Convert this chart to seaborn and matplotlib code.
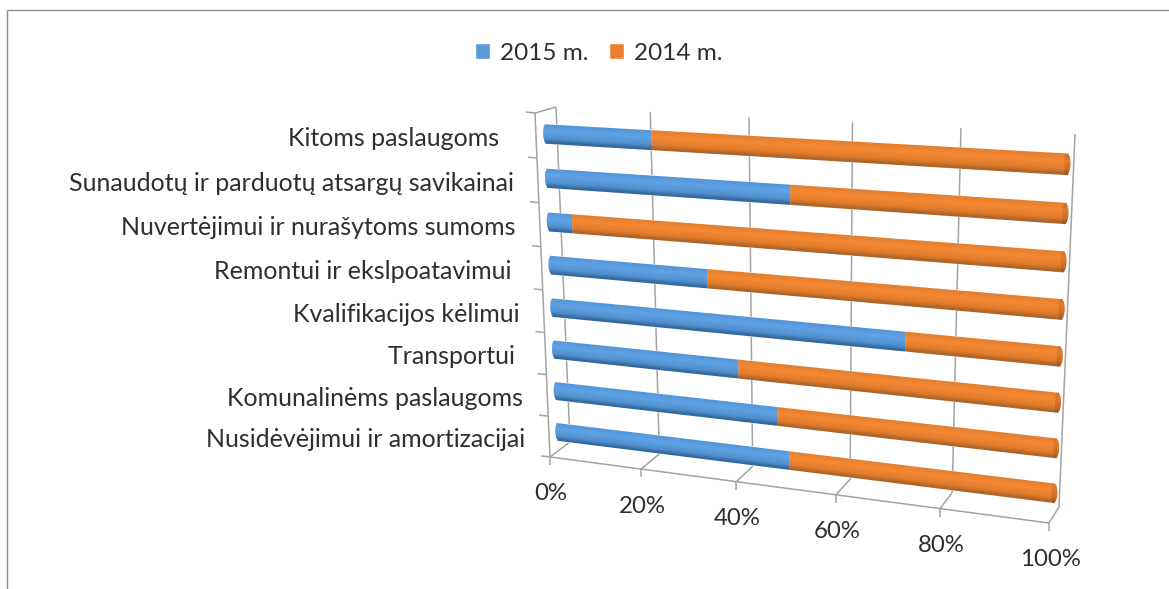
import numpy as np
import pandas as pd
import seaborn as sns
import matplotlib.pyplot as plt
from matplotlib.colors import to_rgb
from matplotlib.transforms import Transform, IdentityTransform

categories = ["Kitoms paslaugoms  ", "Sunaudotų ir parduotų atsargų savikainai",
              "Nuvertėjimui ir nurašytoms sumoms", "Remontui ir ekslpoatavimui ",
              "Kvalifikacijos kėlimui", "Transportui ",
              "Komunalinėms paslaugoms", "Nusidėvėjimui ir amortizacijai"]
share_2015 = [22.1, 49.6, 4.9, 32.9, 71.8, 39.0, 46.9, 49.2]
share_2014 = [77.9, 50.4, 95.1, 67.1, 28.2, 61.0, 53.1, 50.8]
x_ticks = [0, 20, 40, 60, 80, 100]
x_labels = ["0%", "20%", "40%", "60%", "80%", "100%"]

W, H = 1169, 589
TXT = "#2f2f2f"
GRID = "#a3a3a3"
BLUE = "#5b9bd5"
ORANGE = "#ed7d31"

sns.set_theme(style="white")
plt.rcParams["font.family"] = ["Lato", "DejaVu Sans"]


# planes of the fake 3d box, corners in picture pixels: TL, TR, BR, BL
def fit_plane(corners):
    src = [(0, 0), (1, 0), (1, 1), (0, 1)]
    a, b = [], []
    for (u, v), (px, py) in zip(src, corners):
        py = H - py
        a.append([u, v, 1, 0, 0, 0, -u * px, -v * px])
        a.append([0, 0, 0, u, v, 1, -u * py, -v * py])
        b += [px, py]
    return np.append(np.linalg.solve(np.array(a, float), np.array(b, float)), 1).reshape(3, 3)


class Persp(Transform):
    input_dims = 2
    output_dims = 2
    is_separable = False
    has_inverse = False

    def __init__(self, m):
        super().__init__()
        self.m = m

    def transform_non_affine(self, values):
        values = np.asarray(values, float)
        u = values[:, 0] / 100
        v = (values[:, 1] + 0.5) / 8
        p = self.m @ np.vstack([u, v, np.ones_like(u)])
        return (p[:2] / p[2]).T


back = Persp(fit_plane([(556, 107), (1075, 134), (1059, 507), (570, 442)]))
front = Persp(fit_plane([(535, 113), (1065, 140), (1049, 523), (550, 457)]))
bars = Persp(fit_plane([(545.1, 111.7), (1067.9, 139.5), (1053.1, 515.5), (558.9, 452.3)]))


def pt(plane, x, y):
    return plane.transform_non_affine(np.array([[x, y]]))[0]


fig = plt.figure(figsize=(W / 100, H / 100), dpi=100, facecolor="white")
ax = fig.add_axes([0, 0, 1, 1])
px = IdentityTransform()


def seg(a, b, color=GRID, lw=1.1):
    ax.plot([a[0], b[0]], [a[1], b[1]], color=color, lw=lw, transform=px,
            zorder=0.5, scalex=False, scaley=False, solid_capstyle="butt")


# outer frame of the screenshot
seg((6.5, 0), (6.5, H - 9.5), "#8c8c8c", 1.0)
seg((6.5, H - 9.5), (W, H - 9.5), "#8c8c8c", 1.0)

# walls, floor, ticks
for t in x_ticks:
    seg(pt(back, t, -0.5), pt(back, t, 7.5))
    seg(pt(back, t, 7.5), pt(front, t, 7.5))
    f = pt(front, t, 7.5)
    seg(f, (f[0], f[1] - 8))
seg(pt(front, 0, 7.5), pt(front, 100, 7.5))
seg(pt(front, 0, -0.5), pt(front, 0, 7.5))
seg(pt(front, 0, -0.5), pt(back, 0, -0.5))
for k in range(9):
    f = pt(front, 0, k - 0.5)
    seg(f, (f[0] - 9, f[1] + 1))

# bars, stacked by drawing the total first
df = pd.DataFrame({"cat": categories, "s15": share_2015, "s14": share_2014})
df["total"] = df["s15"] + df["s14"]
bar_w = 0.42
sns.barplot(data=df, x="total", y="cat", orient="h", color=ORANGE, saturation=1,
            width=bar_w, errorbar=None, label="2014 m.", legend=False, ax=ax)
sns.barplot(data=df, x="s15", y="cat", orient="h", color=BLUE, saturation=1,
            width=bar_w, errorbar=None, label="2015 m.", legend=False, ax=ax)
handles, labels = ax.get_legend_handles_labels()
if ax.get_legend() is not None:
    ax.get_legend().remove()

# cylinder shading: thin strips across each bar, ends bulge out for the round caps
n = 12
cap = 0.6
stops = [-1, -0.3, 0.5, 1]
blue_stops = ["#5494d6", "#5fa3e6", "#5090ce", "#2f6296"]
orange_stops = ["#e27e2e", "#f48834", "#e27c2a", "#a2602a"]
end_stops = ["#d0722a", "#de7a2e", "#c86c26", "#92552a"]


def shade(names, t):
    rgb = np.array([to_rgb(c) for c in names])
    return tuple(np.interp(t, stops, rgb[:, i]) for i in range(3))


for i in range(n):
    t = -1 + (2 * i + 1) / n
    off = t * bar_w / 2
    h = bar_w / n * 1.5
    bulge = cap * np.sqrt(1 - t * t)
    for y, a, b in zip(range(8), share_2015, df["total"]):
        ax.barh(y + off, a + bulge, left=-bulge, height=h, color=shade(blue_stops, t), lw=0)
        ax.barh(y + off, b - a - 0.4, left=a, height=h, color=shade(orange_stops, t), lw=0)
        ax.barh(y + off, 0.4 + bulge, left=b - 0.4, height=h, color=shade(end_stops, t), lw=0)

for p in ax.patches:
    p.set_transform(bars)
    p.set_clip_on(False)

ax.set_xlim(0, 1)
ax.set_ylim(0, 1)
ax.axis("off")

# category labels sit left of the front axis
for k, name in enumerate(categories):
    f = pt(front, 0, k)
    ax.text(f[0] - 24, f[1] - 3, name, transform=px, ha="right", va="center",
            fontsize=18, color=TXT)

for t, lab in zip(x_ticks, x_labels):
    f = pt(front, t, 7.5)
    ax.text(f[0] + 1, f[1] - 37, lab, transform=px, ha="center", va="center",
            fontsize=17.3, color=TXT)

fig.legend(handles[::-1], labels[::-1], loc="center", ncol=2, frameon=False,
           bbox_to_anchor=(598.5 / W, 1 - 53 / H), fontsize=17.5, labelcolor=TXT,
           handlelength=0.62, handleheight=0.62, handletextpad=0.4, columnspacing=0.85)

fig.savefig("out.png", dpi=100)
